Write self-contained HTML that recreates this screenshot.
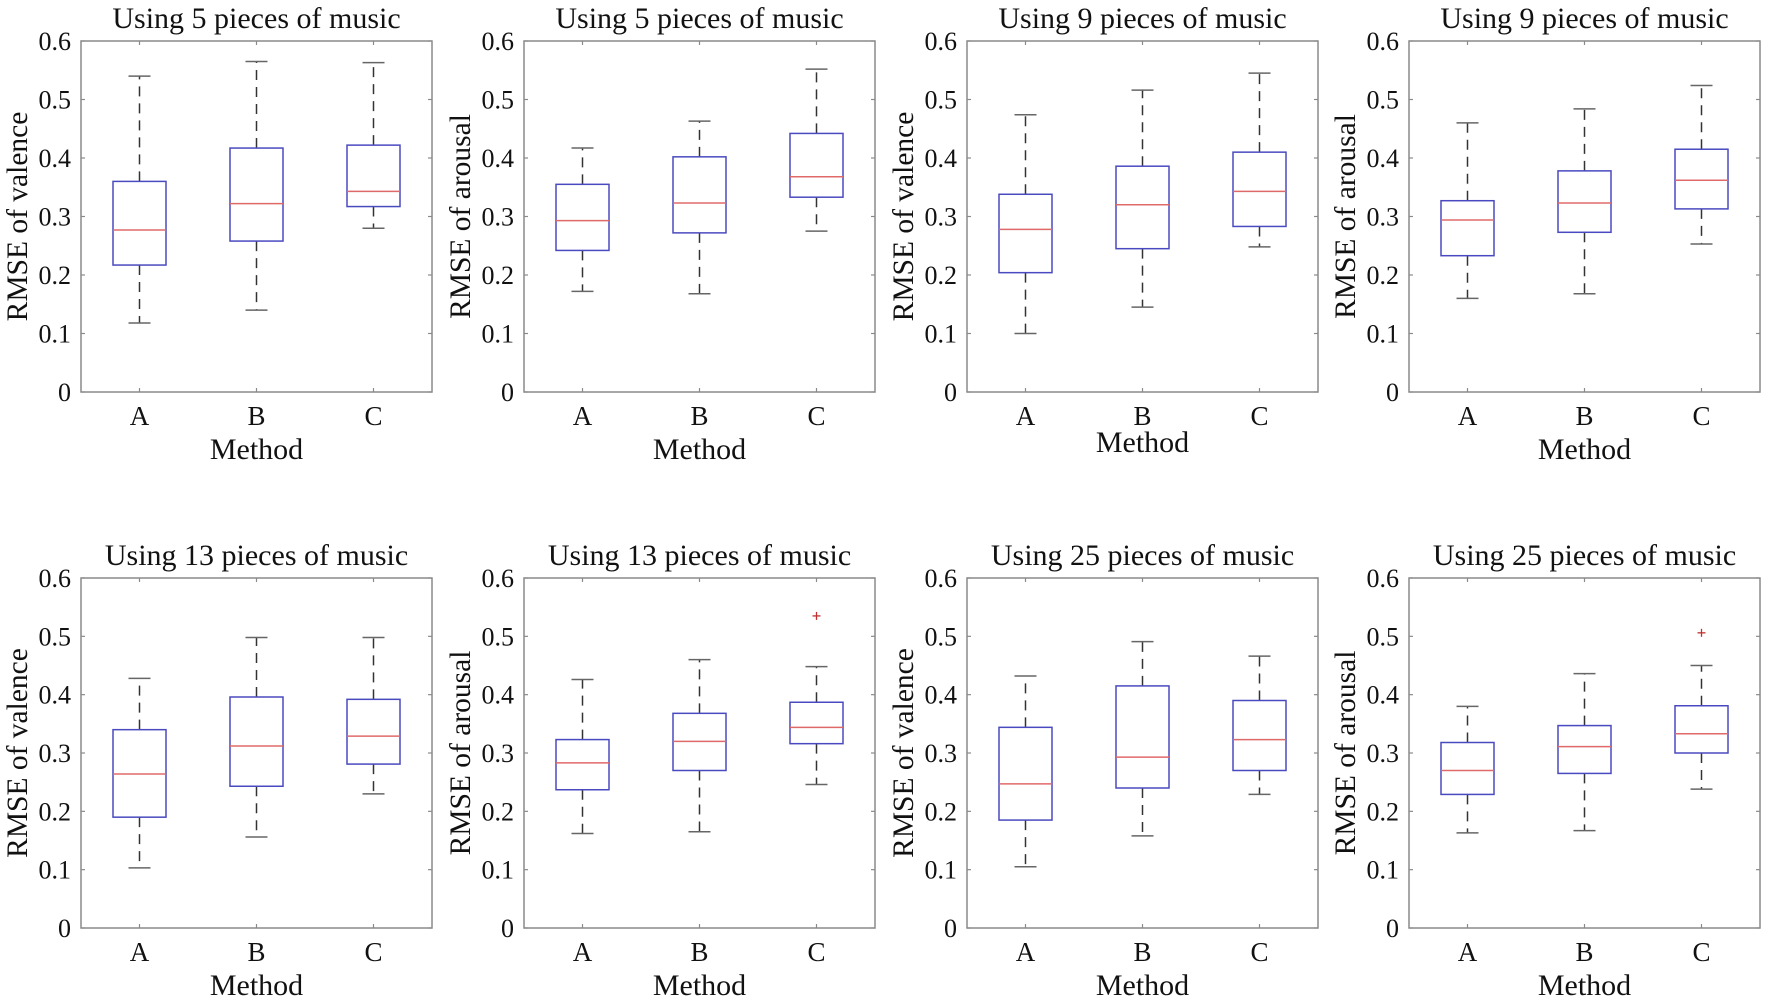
<!DOCTYPE html>
<html><head><meta charset="utf-8"><style>
html,body{margin:0;padding:0;background:#fff;}
svg{display:block;font-family:"Liberation Serif",serif;}
</style></head><body>
<svg id="chart" width="1772" height="1007" viewBox="0 0 1772 1007" xmlns="http://www.w3.org/2000/svg"></svg>
<script>
const categories = ["A","B","C"];
const titles = ["Using 5 pieces of music","Using 5 pieces of music","Using 9 pieces of music","Using 9 pieces of music",
  "Using 13 pieces of music","Using 13 pieces of music","Using 25 pieces of music","Using 25 pieces of music"];
const yLabels = ["RMSE of valence","RMSE of arousal","RMSE of valence","RMSE of arousal",
  "RMSE of valence","RMSE of arousal","RMSE of valence","RMSE of arousal"];
const yTicks = [0,0.1,0.2,0.3,0.4,0.5,0.6];
const yTickLabels = ["0","0.1","0.2","0.3","0.4","0.5","0.6"];
const whiskerLow = [[0.118,0.14,0.28],[0.172,0.168,0.275],[0.10,0.145,0.248],[0.16,0.168,0.253],
  [0.103,0.156,0.23],[0.162,0.165,0.246],[0.105,0.158,0.229],[0.163,0.167,0.238]];
const q1 = [[0.217,0.258,0.317],[0.242,0.272,0.333],[0.204,0.245,0.283],[0.233,0.273,0.313],
  [0.19,0.243,0.281],[0.237,0.27,0.316],[0.185,0.24,0.27],[0.229,0.265,0.30]];
const median = [[0.277,0.322,0.343],[0.293,0.323,0.368],[0.278,0.32,0.343],[0.294,0.323,0.362],
  [0.264,0.312,0.329],[0.283,0.32,0.344],[0.247,0.293,0.323],[0.27,0.311,0.333]];
const q3 = [[0.36,0.417,0.422],[0.355,0.402,0.442],[0.338,0.386,0.41],[0.327,0.378,0.415],
  [0.34,0.396,0.392],[0.323,0.368,0.387],[0.344,0.415,0.39],[0.318,0.347,0.381]];
const whiskerHigh = [[0.54,0.565,0.563],[0.417,0.463,0.552],[0.474,0.516,0.545],[0.46,0.484,0.524],
  [0.428,0.498,0.498],[0.426,0.46,0.448],[0.432,0.491,0.466],[0.38,0.436,0.45]];
const outliers = [[],[],[],[],[],[[2,0.535]],[],[[2,0.506]]];

const NS="http://www.w3.org/2000/svg";
const svg=document.getElementById('chart');
function mk(tag,attrs,parent){const e=document.createElementNS(NS,tag);for(const k in attrs)e.setAttribute(k,attrs[k]);(parent||svg).appendChild(e);return e;}

const lefts=[81,524,967,1409];
const W=351;
for(let p=0;p<8;p++){
  const row=Math.floor(p/4), col=p%4;
  const L=lefts[col], T=row?578:41, B=row?928:392, R=L+W;
  const g=mk('g',{});
  
  
  const y=v=>B-(v/0.6)*(B-T);
  const x=i=>L+(i+0.5)/3*W;
  const ax=mk('rect',{x:L,y:T,width:W,height:B-T,fill:'none',stroke:'#8a8a8a','stroke-width':1.5},g);
  
  
  yTicks.forEach((v,k)=>{
    mk('line',{x1:L,x2:L+4,y1:y(v),y2:y(v),stroke:'#8a8a8a','stroke-width':1.2},g);
    mk('line',{x1:R,x2:R-4,y1:y(v),y2:y(v),stroke:'#8a8a8a','stroke-width':1.2},g);
    const t=mk('text',{x:L-10,y:y(v)+9,'text-anchor':'end','font-size':26,fill:'#111'},g);
    t.textContent=yTickLabels[k];
    
    
  });
  categories.forEach((c,i)=>{
    mk('line',{x1:x(i),x2:x(i),y1:B,y2:B-4,stroke:'#8a8a8a','stroke-width':1.2},g);
    mk('line',{x1:x(i),x2:x(i),y1:T,y2:T+4,stroke:'#8a8a8a','stroke-width':1.2},g);
    const t=mk('text',{x:x(i),y:B+33,'text-anchor':'middle','font-size':27,fill:'#111'},g);
    t.textContent=c;
    
    
  });
  const title=mk('text',{x:L+W/2,y:T-13,'text-anchor':'middle','font-size':30,fill:'#111'},g);
  title.textContent=titles[p];
  
  
  const xl=mk('text',{x:L+W/2,y:B+(p===2?60:67),'text-anchor':'middle','font-size':30,fill:'#111'},g);
  xl.textContent='Method';
  
  
  const cy=(T+B)/2;
  const yl=mk('text',{x:0,y:0,transform:`translate(${L-54},${cy}) rotate(-90)`,'text-anchor':'middle','font-size':29.5,fill:'#111'},g);
  yl.textContent=yLabels[p];
  
  
  categories.forEach((c,i)=>{
    const cx=x(i), hw=26.5, cw=11;
    const wg=mk('g',{},g);
    
    
    mk('line',{x1:cx,x2:cx,y1:y(q3[p][i]),y2:y(whiskerHigh[p][i]),stroke:'#333','stroke-width':1.5,'stroke-dasharray':'10,7'},wg);
    mk('line',{x1:cx,x2:cx,y1:y(q1[p][i]),y2:y(whiskerLow[p][i]),stroke:'#333','stroke-width':1.5,'stroke-dasharray':'10,7'},wg);
    mk('line',{x1:cx-cw,x2:cx+cw,y1:y(whiskerHigh[p][i]),y2:y(whiskerHigh[p][i]),stroke:'#666','stroke-width':1.5},wg);
    mk('line',{x1:cx-cw,x2:cx+cw,y1:y(whiskerLow[p][i]),y2:y(whiskerLow[p][i]),stroke:'#666','stroke-width':1.5},wg);
    mk('rect',{x:cx-hw,y:y(q3[p][i]),width:2*hw,height:y(q1[p][i])-y(q3[p][i]),fill:'none',stroke:'#4a4ac0','stroke-width':1.5},wg);
    mk('line',{x1:cx-hw,x2:cx+hw,y1:y(median[p][i]),y2:y(median[p][i]),stroke:'#e06a6a','stroke-width':1.5},wg);
  });
  outliers[p].forEach(o=>{
    const ox=x(o[0]), oy=y(o[1]);
    const og=mk('g',{},g);
    
    
    mk('line',{x1:ox-4,x2:ox+4,y1:oy,y2:oy,stroke:'#c03030','stroke-width':1.3},og);
    mk('line',{x1:ox,x2:ox,y1:oy-4,y2:oy+4,stroke:'#c03030','stroke-width':1.3},og);
  });
}
</script>
</body></html>
